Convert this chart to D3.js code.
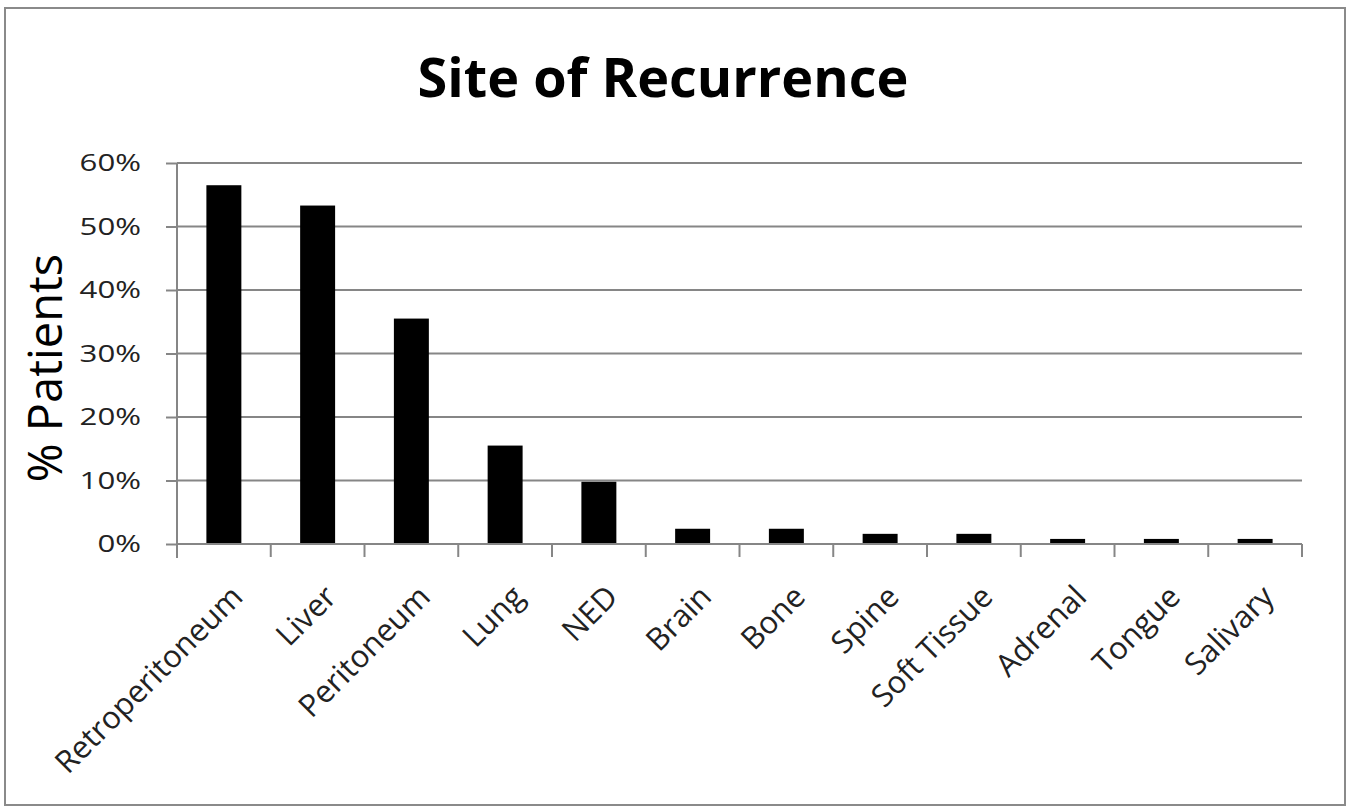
<!DOCTYPE html>
<html lang="en">
  <head>
    <meta charset="utf-8">
    <style>
      body { margin: 0; background: #fff; }
      text { font-family: "Open Sans", "DejaVu Sans", sans-serif; fill: #000; }
      .grid line { stroke: #868686; stroke-width: 2; }
      .axis path, .axis line { stroke: #868686; stroke-width: 2; }
      .tick-label { font-size: 24px; fill: #222; }
      .cat-label { font-size: 31px; fill: #222; }
    </style>
  </head>
  <body>
    <svg id="chart" width="1351" height="811"></svg>

    <script src="https://cdn.jsdelivr.net/npm/d3@7"></script>
    <script>
      // data
      var sites = ["Retroperitoneum", "Liver", "Peritoneum", "Lung", "NED", "Brain",
                   "Bone", "Spine", "Soft Tissue", "Adrenal", "Tongue", "Salivary"];
      var percents = [56.5, 53.3, 35.5, 15.5, 9.8, 2.4, 2.4, 1.6, 1.6, 0.8, 0.8, 0.8];
      var yTicks = [0, 10, 20, 30, 40, 50, 60];

      var data = sites.map(function(s, i) { return { site: s, pct: percents[i] }; });

      var plotLeft = 177, plotRight = 1302, plotTop = 163, plotBottom = 544;

      var svg = d3.select("#chart");

      // outer chart frame
      svg.append("rect")
        .attr("x", 5).attr("y", 8)
        .attr("width", 1340).attr("height", 797)
        .attr("fill", "#fff")
        .attr("stroke", "#8a8a8a")
        .attr("stroke-width", 2);

      var x = d3.scaleBand()
        .domain(sites)
        .range([plotLeft, plotRight])
        .paddingInner(0.627)
        .paddingOuter(0.3135);

      var y = d3.scaleLinear().domain([0, 60]).range([plotBottom, plotTop]);

      // gridlines
      svg.append("g")
        .attr("class", "grid")
        .selectAll("line")
        .data(yTicks.filter(function(d) { return d > 0; }))
        .enter().append("line")
        .attr("x1", plotLeft).attr("x2", plotRight)
        .attr("y1", function(d) { return y(d); })
        .attr("y2", function(d) { return y(d); });

      // bars
      svg.append("g")
        .selectAll("rect")
        .data(data)
        .enter().append("rect")
        .attr("x", function(d) { return x(d.site); })
        .attr("width", x.bandwidth())
        .attr("y", function(d) { return y(d.pct); })
        .attr("height", function(d) { return plotBottom - y(d.pct); })
        .attr("fill", "#000");

      // y axis
      var yAxis = d3.axisLeft(y)
        .tickValues(yTicks)
        .tickSize(11)
        .tickFormat(function(d) { return d + "%"; });

      var gy = svg.append("g")
        .attr("class", "axis")
        .attr("transform", "translate(" + plotLeft + ",0)")
        .call(yAxis);
      gy.select(".domain").attr("d", "M0," + plotTop + "V" + (plotBottom + 14));
      gy.selectAll(".tick text")
        .attr("class", "tick-label")
        .attr("transform", "scale(1.3,1)")
        .attr("x", -36 / 1.3);

      // x axis: ticks on category boundaries
      var step = x.step();
      var bounds = d3.range(sites.length + 1).map(function(i) { return plotLeft + i * step; });

      var gx = svg.append("g").attr("class", "axis");
      gx.append("line")
        .attr("x1", plotLeft).attr("x2", plotRight)
        .attr("y1", plotBottom).attr("y2", plotBottom);
      gx.selectAll("line.bt")
        .data(bounds)
        .enter().append("line")
        .attr("class", "bt")
        .attr("x1", function(d) { return d; })
        .attr("x2", function(d) { return d; })
        .attr("y1", plotBottom).attr("y2", plotBottom + 13);

      // category labels, rotated
      svg.append("g")
        .selectAll("text")
        .data(sites)
        .enter().append("text")
        .attr("class", "cat-label")
        .attr("text-anchor", "end")
        .attr("dy", "0.76em")
        .attr("transform", function(d) {
          return "translate(" + (x(d) + x.bandwidth() / 2 + 4) + ",582) rotate(-45)";
        })
        .text(function(d) { return d; });

      // titles
      svg.append("text")
        .attr("x", 663).attr("y", 97)
        .attr("text-anchor", "middle")
        .style("font-size", "54px")
        .style("font-weight", "bold")
        .text("Site of Recurrence");

      svg.append("text")
        .attr("transform", "translate(62,368) rotate(-90)")
        .attr("text-anchor", "middle")
        .style("font-size", "47px")
        .text("% Patients");
    </script>
  </body>
</html>
